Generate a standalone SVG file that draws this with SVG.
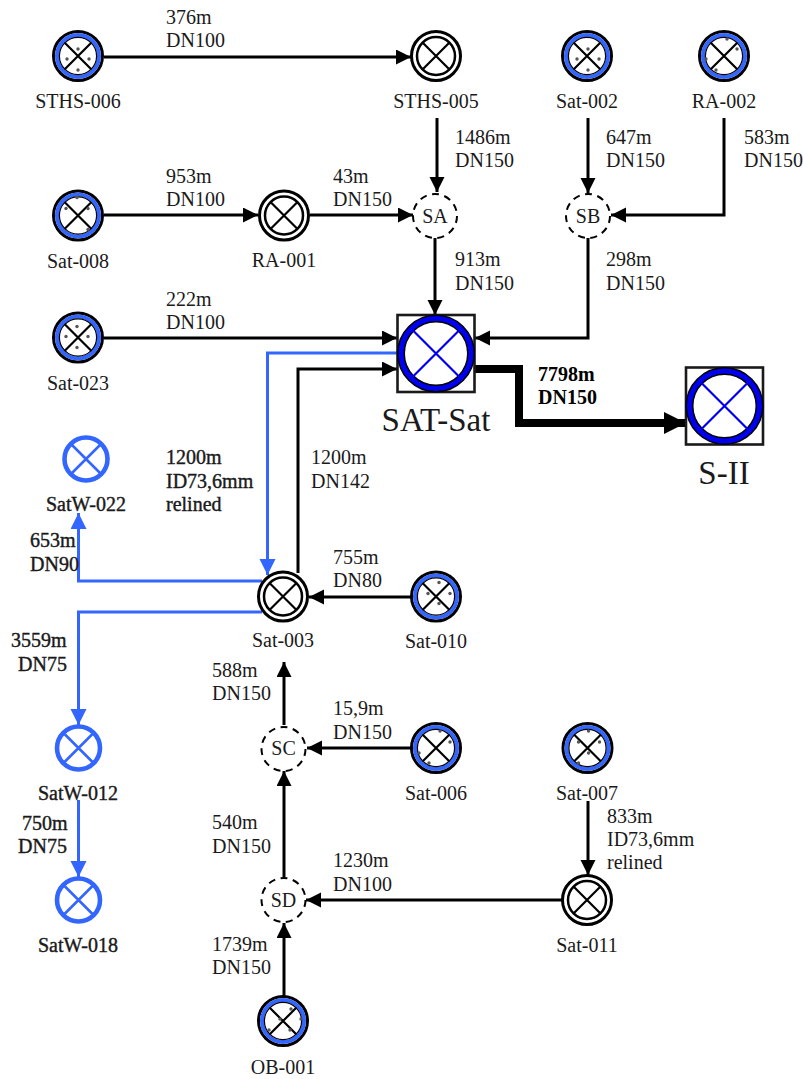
<svg xmlns="http://www.w3.org/2000/svg" width="803" height="1079" viewBox="0 0 803 1079">
<style>
text{font-family:"Liberation Serif","Times New Roman",serif;font-size:20px;fill:#1a1a1a}
.m{text-anchor:middle}
.d{stroke:#1a1a1a;stroke-width:.4px}
.b{font-weight:bold;fill:#000}
.big{font-size:33px}
.c{fill:none;stroke:#000;stroke-width:3}
.bl{fill:none;stroke:#3366ff;stroke-width:3}
.h{fill:none;stroke:#000;stroke-width:8}
.dash{fill:#fff;stroke:#000;stroke-width:2;stroke-dasharray:7 5.5}
.x{stroke:#000;stroke-width:2.2;fill:none}
.bx{stroke:#0000ee;stroke-width:2.2;fill:none}
.lx{stroke:#3366ff;stroke-width:2.6;fill:none}
.dot{fill:#555}
</style>
<defs>
<marker id="a" markerUnits="userSpaceOnUse" markerWidth="16" markerHeight="16" refX="15" refY="7.5" orient="auto"><path d="M0 0L15 7.5L0 15Z" fill="#000"/></marker>
<marker id="ab" markerUnits="userSpaceOnUse" markerWidth="17" markerHeight="17" refX="16" refY="8" orient="auto"><path d="M0 0L16 8L0 16Z" fill="#3366ff"/></marker>
<marker id="ah" markerUnits="userSpaceOnUse" markerWidth="24" markerHeight="22" refX="22" refY="11" orient="auto"><path d="M0 0L22 11L0 22Z" fill="#000"/></marker>
<g id="well"><circle r="24.5" fill="#fff" stroke="#000" stroke-width="3"/><circle r="21" fill="none" stroke="#3366ff" stroke-width="4"/><circle r="18.6" fill="none" stroke="#000" stroke-width="1.2"/><path class="x" d="M-13.5-13.5L13.5 13.5M-13.5 13.5L13.5-13.5"/></g>
<g id="plain"><circle r="24.5" fill="#fff" stroke="#000" stroke-width="3"/><circle r="19" fill="none" stroke="#000" stroke-width="2.5"/><path class="x" d="M-13.5-13.5L13.5 13.5M-13.5 13.5L13.5-13.5"/></g>
<g id="lw"><circle r="21.5" fill="#fff" stroke="#3366ff" stroke-width="4.6"/><path class="lx" d="M-14-14L14 14M-14 14L14-14"/></g>
<g id="main"><rect x="-38.5" y="-38.5" width="77" height="77" fill="#fff" stroke="#1a1a1a" stroke-width="2.6"/><circle r="35" fill="#fff" stroke="#000" stroke-width="8"/><circle r="35" fill="none" stroke="#0000ee" stroke-width="5"/><path class="bx" d="M-24-24L24 24M-24 24L24-24"/></g>
<g id="dq"><circle class="dot" cx="1" cy="-7" r="1.7"/><circle class="dot" cx="-10" cy="3" r="1.7"/><circle class="dot" cx="12" cy="3" r="1.7"/><circle class="dot" cx="1" cy="14" r="1.7"/></g>
</defs>
<g id="connectors">
<path class="c" d="M104 57H411" marker-end="url(#a)"/>
<path class="c" d="M437 118V192" marker-end="url(#a)"/>
<path class="c" d="M104 215H258" marker-end="url(#a)"/>
<path class="c" d="M310 215H413" marker-end="url(#a)"/>
<path class="c" d="M435 238V315" marker-end="url(#a)"/>
<path class="c" d="M588 118V193" marker-end="url(#a)"/>
<path class="c" d="M724 118V215H611" marker-end="url(#a)"/>
<path class="c" d="M588 238V338H475" marker-end="url(#a)"/>
<path class="c" d="M104 338H397" marker-end="url(#a)"/>
<path class="c" d="M298 573V369H397" marker-end="url(#a)"/>
<path class="bl" d="M397 353H267.500V575" marker-end="url(#ab)"/>
<path class="bl" d="M262 581H78.500V513" marker-end="url(#ab)"/>
<path class="bl" d="M262 612H78.500V725" marker-end="url(#ab)"/>
<path class="bl" d="M78.500 800V877" marker-end="url(#ab)"/>
<path class="c" d="M411 597H309" marker-end="url(#a)"/>
<path class="c" d="M284 725V662" marker-end="url(#a)"/>
<path class="c" d="M411 748H307" marker-end="url(#a)"/>
<path class="c" d="M284 877V771" marker-end="url(#a)"/>
<path class="c" d="M563 900H306" marker-end="url(#a)"/>
<path class="c" d="M588 801V875" marker-end="url(#a)"/>
<path class="c" d="M284 998V923" marker-end="url(#a)"/>
<path class="h" d="M474 369H519V423H686" marker-end="url(#ah)"/>
</g>
<g id="STHS-006"><use href="#well" x="78" y="56"/><use href="#dq" x="77" y="56"/><text class="m" x="78" y="108">STHS-006</text></g>
<g id="STHS-005"><use href="#plain" x="436" y="56"/><text class="m" x="436" y="108">STHS-005</text></g>
<g id="Sat-002"><use href="#well" x="587" y="56"/><use href="#dq" x="587" y="56"/><text class="m" x="587" y="108">Sat-002</text></g>
<g id="RA-002"><use href="#well" x="724" y="56"/><g transform="translate(724 56)"><circle class="dot" cx="3" cy="-17" r="1.7"/><circle class="dot" cx="13" cy="-7" r="1.7"/><circle class="dot" cx="-18" cy="3" r="1.7"/><circle class="dot" cx="-8" cy="14" r="1.7"/></g><text class="m" x="724" y="108">RA-002</text></g>
<g id="Sat-008"><use href="#well" x="78" y="215.500"/><g transform="translate(78 215.500)"><circle class="dot" cx="-1" cy="-18" r="1.7"/><circle class="dot" cx="-12" cy="-7" r="1.7"/><circle class="dot" cx="10" cy="-7" r="1.7"/><circle class="dot" cx="10" cy="14" r="1.7"/></g><text class="m" x="78" y="268">Sat-008</text></g>
<g id="RA-001"><use href="#plain" x="284" y="215.500"/><text class="m" x="284" y="267">RA-001</text></g>
<g id="SA"><circle class="dash" cx="435" cy="216" r="22"/><text class="m" x="435" y="223">SA</text></g>
<g id="SB"><circle class="dash" cx="588" cy="216" r="22"/><text class="m" x="588" y="223">SB</text></g>
<g id="Sat-023"><use href="#well" x="78" y="337.500"/><g transform="translate(78 337.500)"><circle class="dot" cx="-1" cy="-11" r="1.7"/><circle class="dot" cx="-12" cy="-1" r="1.7"/><circle class="dot" cx="10" cy="-1" r="1.7"/><circle class="dot" cx="-1" cy="10" r="1.7"/></g><text class="m" x="78" y="390">Sat-023</text></g>
<g id="SAT-Sat"><use href="#main" x="436" y="353.500"/><text class="m big" x="436" y="431">SAT-Sat</text></g>
<g id="S-II"><use href="#main" x="724.500" y="406"/><text class="m big" x="724" y="484">S-II</text></g>
<g id="SatW-022"><use href="#lw" x="86" y="459"/><text class="m d" x="86" y="511">SatW-022</text></g>
<g id="Sat-003"><use href="#plain" x="283" y="596.500"/><text class="m" x="283" y="647">Sat-003</text></g>
<g id="Sat-010"><use href="#well" x="436" y="596.500"/><g transform="translate(436 596.500)"><circle class="dot" cx="3" cy="-14" r="1.7"/><circle class="dot" cx="-8" cy="-3" r="1.7"/><circle class="dot" cx="14" cy="-3" r="1.7"/><circle class="dot" cx="3" cy="7" r="1.7"/></g><text class="m" x="436" y="648">Sat-010</text></g>
<g id="SatW-012"><use href="#lw" x="78.500" y="748"/><text class="m d" x="78" y="800">SatW-012</text></g>
<g id="SC"><circle class="dash" cx="283.500" cy="749" r="22"/><text class="m" x="283.500" y="755">SC</text></g>
<g id="Sat-006"><use href="#well" x="436" y="748"/><g transform="translate(436 748)"><circle class="dot" cx="4" cy="-17" r="1.7"/><circle class="dot" cx="14" cy="-6" r="1.7"/><circle class="dot" cx="-17" cy="5" r="1.7"/><circle class="dot" cx="-7" cy="15" r="1.7"/></g><text class="m" x="436" y="800">Sat-006</text></g>
<g id="Sat-007"><use href="#well" x="587.500" y="748"/><g transform="translate(587.500 748)"><circle class="dot" cx="1" cy="-17" r="1.7"/><circle class="dot" cx="12" cy="-6" r="1.7"/><circle class="dot" cx="-9" cy="-6" r="1.7"/><circle class="dot" cx="1" cy="5" r="1.7"/><circle class="dot" cx="-9" cy="15" r="1.7"/></g><text class="m" x="587" y="800">Sat-007</text></g>
<g id="SatW-018"><use href="#lw" x="78.500" y="900"/><text class="m d" x="78" y="952">SatW-018</text></g>
<g id="SD"><circle class="dash" cx="283.500" cy="900" r="22"/><text class="m" x="283.500" y="907">SD</text></g>
<g id="Sat-011"><use href="#plain" x="587" y="900"/><text class="m" x="587" y="952">Sat-011</text></g>
<g id="OB-001"><use href="#well" x="283" y="1021"/><g transform="translate(283 1021)"><circle class="dot" cx="8" cy="-12" r="1.7"/><circle class="dot" cx="18" cy="-2" r="1.7"/><circle class="dot" cx="-3" cy="-2" r="1.7"/><circle class="dot" cx="-14" cy="9" r="1.7"/><circle class="dot" cx="7" cy="9" r="1.7"/></g><text class="m" x="283" y="1074">OB-001</text></g>
<g id="labels">
<text x="166" y="24">376m</text><text x="166" y="47">DN100</text>
<text x="455" y="144">1486m</text><text x="455" y="167">DN150</text>
<text x="606" y="144">647m</text><text x="606" y="167">DN150</text>
<text x="744" y="144">583m</text><text x="744" y="167">DN150</text>
<text x="166" y="183">953m</text><text x="166" y="206">DN100</text>
<text x="333" y="183">43m</text><text x="333" y="206">DN150</text>
<text x="455" y="266">913m</text><text x="455" y="290">DN150</text>
<text x="606" y="266">298m</text><text x="606" y="290">DN150</text>
<text x="166" y="306">222m</text><text x="166" y="329">DN100</text>
<text class="b" x="538" y="381">7798m</text><text class="b" x="538" y="404">DN150</text>
<text class="d" x="166" y="464">1200m</text><text class="d" x="166" y="488">ID73,6mm</text><text class="d" x="166" y="511">relined</text>
<text x="311" y="464">1200m</text><text x="311" y="488">DN142</text>
<text class="d" x="30" y="547">653m</text><text class="d" x="30" y="571">DN90</text>
<text x="333" y="564">755m</text><text x="333" y="587">DN80</text>
<text class="d" x="11" y="647">3559m</text><text class="d" x="18" y="671">DN75</text>
<text x="212" y="677">588m</text><text x="212" y="700">DN150</text>
<text x="333" y="715">15,9m</text><text x="333" y="739">DN150</text>
<text class="d" x="22" y="830">750m</text><text class="d" x="18" y="853">DN75</text>
<text x="212" y="829">540m</text><text x="212" y="853">DN150</text>
<text x="607" y="823">833m</text><text x="607" y="846">ID73,6mm</text><text x="607" y="869">relined</text>
<text x="333" y="867">1230m</text><text x="333" y="891">DN100</text>
<text x="212" y="951">1739m</text><text x="212" y="974">DN150</text>
</g>
</svg>
